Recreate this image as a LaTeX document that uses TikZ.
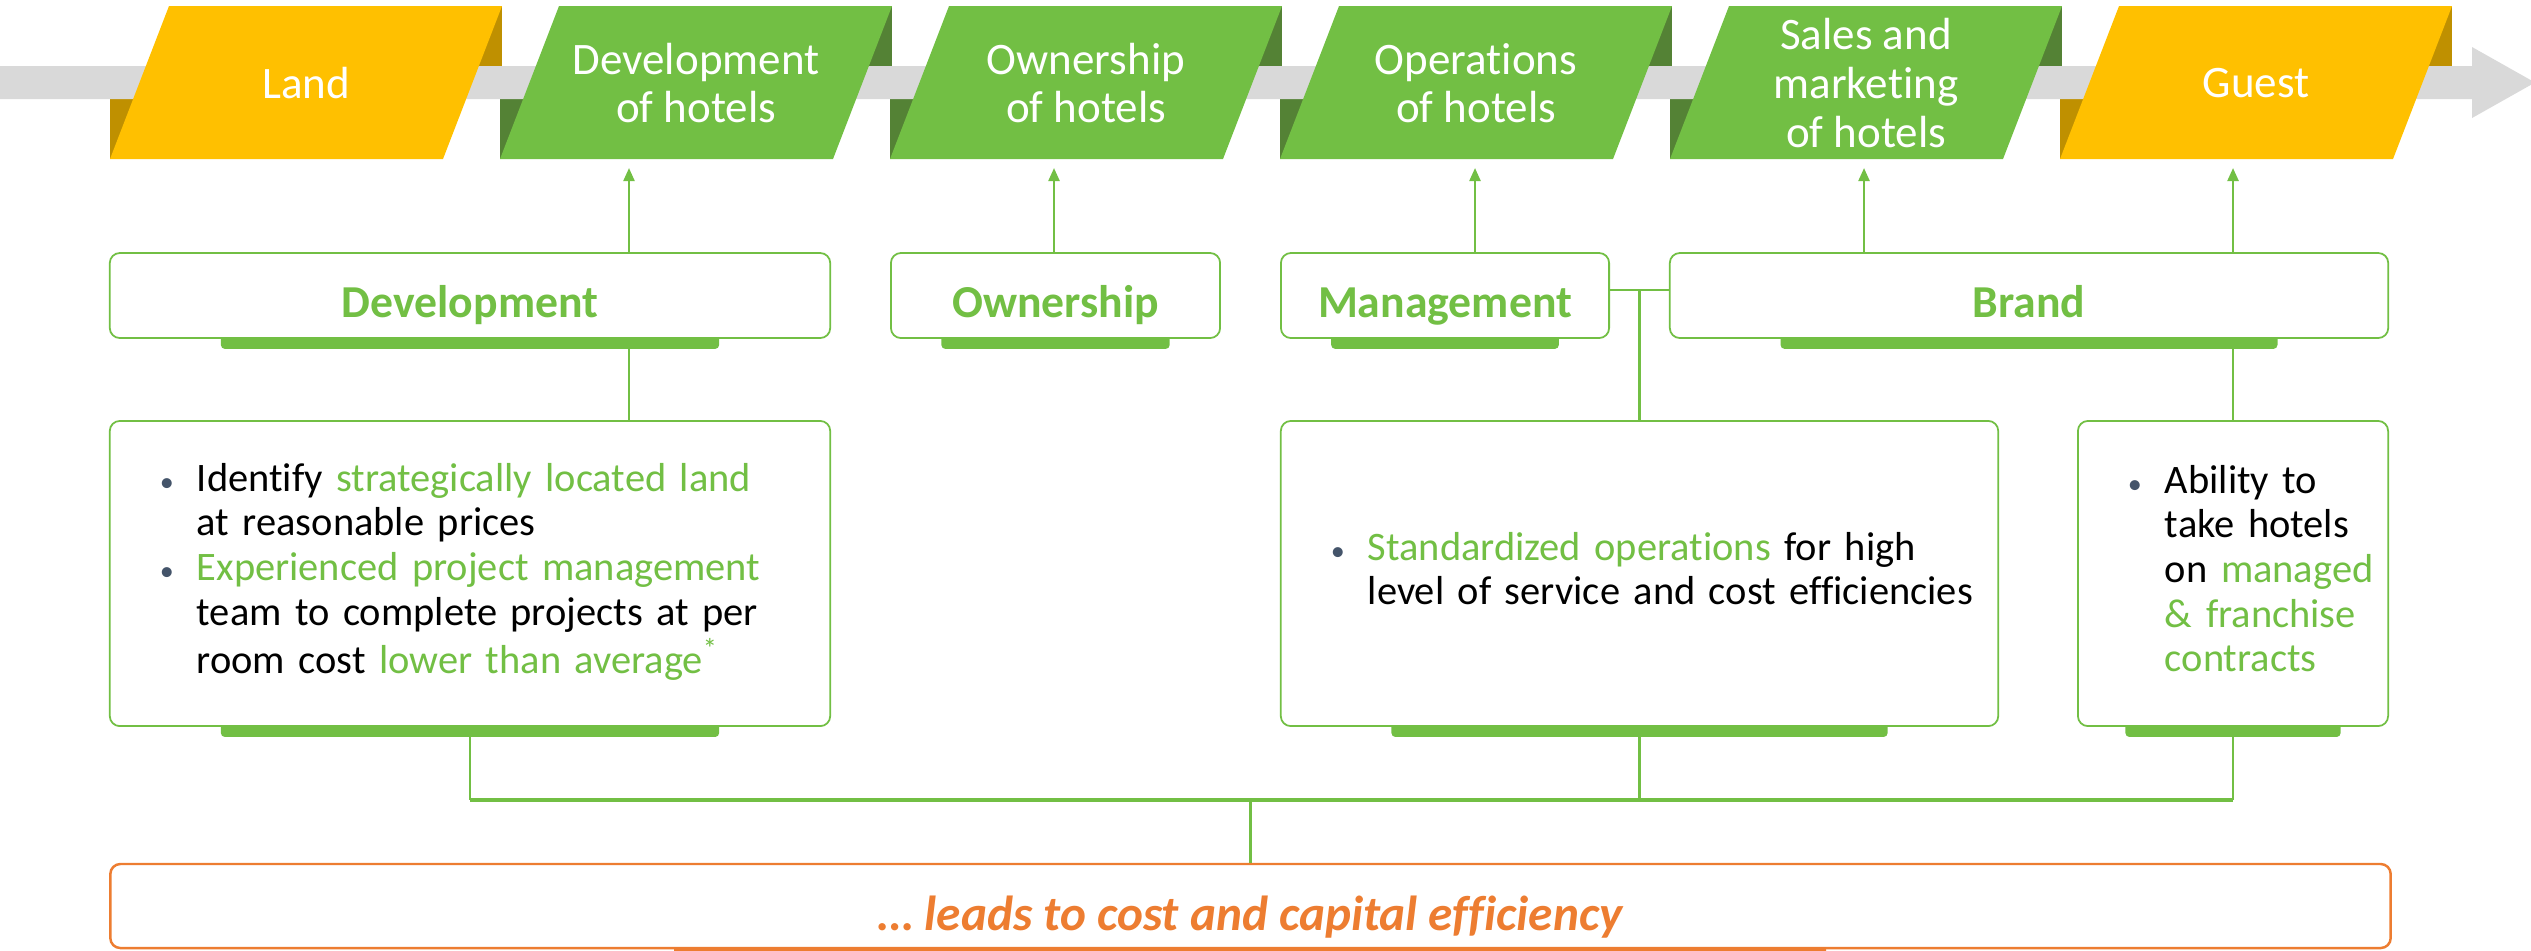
\documentclass[tikz,border=0pt]{standalone}
\usepackage{fontspec}
\setmainfont{Carlito}[Ligatures=NoCommon]
\usetikzlibrary{arrows.meta,calc,backgrounds}
\definecolor{hgreen}{HTML}{72BF44}
\definecolor{hgreendk}{HTML}{548235}
\definecolor{hgold}{HTML}{FFC000}
\definecolor{hgolddk}{HTML}{BF9000}
\definecolor{hgray}{HTML}{D9D9D9}
\definecolor{horange}{HTML}{ED7D31}
\definecolor{hslate}{HTML}{44546A}
\newcommand{\grn}[1]{\textcolor{hgreen}{#1}}
\newcommand{\dotb}{\textcolor{hslate}{\footnotesize\textbullet}}
\begin{document}
\begin{tikzpicture}[x=0.01cm,y=-0.01cm,
  stage/.style={text=white,align=center,font=\fontsize{12.8}{13.8}\selectfont},
  title/.style={draw=hgreen,line width=0.5pt,fill=white,rounded corners=0.1cm,
    minimum height=0.85cm,text height=0.45cm,text depth=0.02cm,
    text=hgreen,font=\fontsize{13}{15}\selectfont\bfseries},
  body/.style={draw=hgreen,line width=0.5pt,fill=white,rounded corners=0.1cm,
    minimum height=3.05cm,inner xsep=0.5cm,align=left,font=\fontsize{11.5}{12.7}\selectfont},
  shelf/.style={fill=hgreen,rounded corners=0.04cm},
  link/.style={hgreen,line width=0.65pt},
  up/.style={link,-{Triangle[length=0.13cm,width=0.11cm]}}]
  \path[use as bounding box,clip] (0,0) rectangle (2531,950);
  \foreach \i/\col in {0/hgold,1/hgreen,2/hgreen,3/hgreen,4/hgreen,5/hgold} {
    \fill[\col dk] (442+390*\i,6) rectangle (502+390*\i,66);
    \fill[\col dk] (110+390*\i,99) rectangle (170+390*\i,159);
  }
  \fill[hgray] (0,66) -- (2472,66) -- (2472,47) -- (2535,82.5)
    -- (2472,118) -- (2472,99) -- (0,99) -- cycle;
  \foreach \i/\col/\txt in {0/hgold/Land,1/hgreen/{Development\\of hotels},
      2/hgreen/{Ownership\\of hotels},3/hgreen/{Operations\\of hotels},
      4/hgreen/{Sales and\\marketing\\of hotels},5/hgold/Guest} {
    \fill[\col] (110+390*\i,159) -- (169+390*\i,6) -- (502+390*\i,6)
      -- (443+390*\i,159) -- cycle;
    \node[stage] (s\i) at (306+390*\i,83) {\txt};
  }

  \node[title,minimum width=7.2cm] (tdev) at (470,295.5) {Development};
  \node[title,minimum width=3.29cm] (town) at (1055.5,295.5) {Ownership};
  \node[title,minimum width=3.28cm] (tman) at (1445,295.5) {Management};
  \node[title,minimum width=7.18cm] (tbra) at (2029,295.5) {Brand};

  \node[body,text width=6.2cm] (bdev) at (470,573.5) {%
    \begin{tabular}{@{}p{0.37cm}@{}l@{}}
      \dotb & Identify \grn{strategically located land}\\
            & at reasonable prices\\
      \dotb & \grn{Experienced project management}\\
            & team to complete projects at per\\
            & room cost \grn{lower than average\textsuperscript{*}}
    \end{tabular}};
  \node[body,text width=6.17cm] (bman) at (1639.5,573.5) {%
    \begin{tabular}{@{}p{0.37cm}@{}l@{}}
      \dotb & \grn{Standardized operations} for high\\
            & level of service and cost efficiencies
    \end{tabular}};
  \node[body,text width=2.1cm] (bbra) at (2233,573.5) {%
    \begin{tabular}{@{}p{0.37cm}@{}l@{}}
      \dotb & Ability to\\
            & take hotels\\
            & on \grn{managed}\\
            & \grn{\& franchise}\\
            & \grn{contracts}
    \end{tabular}};

  \node[draw=horange,line width=0.7pt,fill=white,rounded corners=0.1cm,
    minimum width=22.79cm,minimum height=0.84cm,text height=0.5cm,text depth=0.02cm,
    text=horange,font=\fontsize{14}{16}\selectfont\bfseries\itshape] (res) at (1250.5,906)
    {… leads to cost and capital efficiency};

  \begin{scope}[on background layer]
    \foreach \n in {tdev,town,tman,tbra,bdev,bman,bbra}
      \fill[shelf] ($(\n.south west)!0.155!(\n.south east)+(0,-10)$)
        rectangle ($(\n.south west)!0.845!(\n.south east)+(0,10)$);
    \fill[horange,rounded corners=0.04cm] (674,938) rectangle (1826,956);
  \end{scope}

  \coordinate (u1) at (629,168);
  \coordinate (u2) at (1054,168);
  \coordinate (u3) at (1475,168);
  \coordinate (u4) at (1864,168);
  \coordinate (u5) at (2233,168);
  \draw[up] (tdev.north -| u1) -- (u1);
  \draw[up] (town.north -| u2) -- (u2);
  \draw[up] (tman.north -| u3) -- (u3);
  \draw[up] (tbra.north -| u4) -- (u4);
  \draw[up] (tbra.north -| u5) -- (u5);
  \draw[link] (tdev.south -| u1) -- (bdev.north -| u1);

  \coordinate (j) at (1639.5,290);
  \draw[link] (tman.east |- j) -- (tbra.west |- j);
  \draw[link] (j) -- (bman.north);
  \draw[link] (tbra.south -| bbra.north) -- (bbra.north);

  \coordinate (bus) at (1250.5,800);
  \foreach \n in {bdev,bman,bbra}
    \draw[link] (\n.south) -- (\n.south |- bus);
  \draw[link,line width=1.1pt] (bdev.south |- bus) -- (bbra.south |- bus);
  \draw[link] (bus) -- (res.north);
\end{tikzpicture}
\end{document}
